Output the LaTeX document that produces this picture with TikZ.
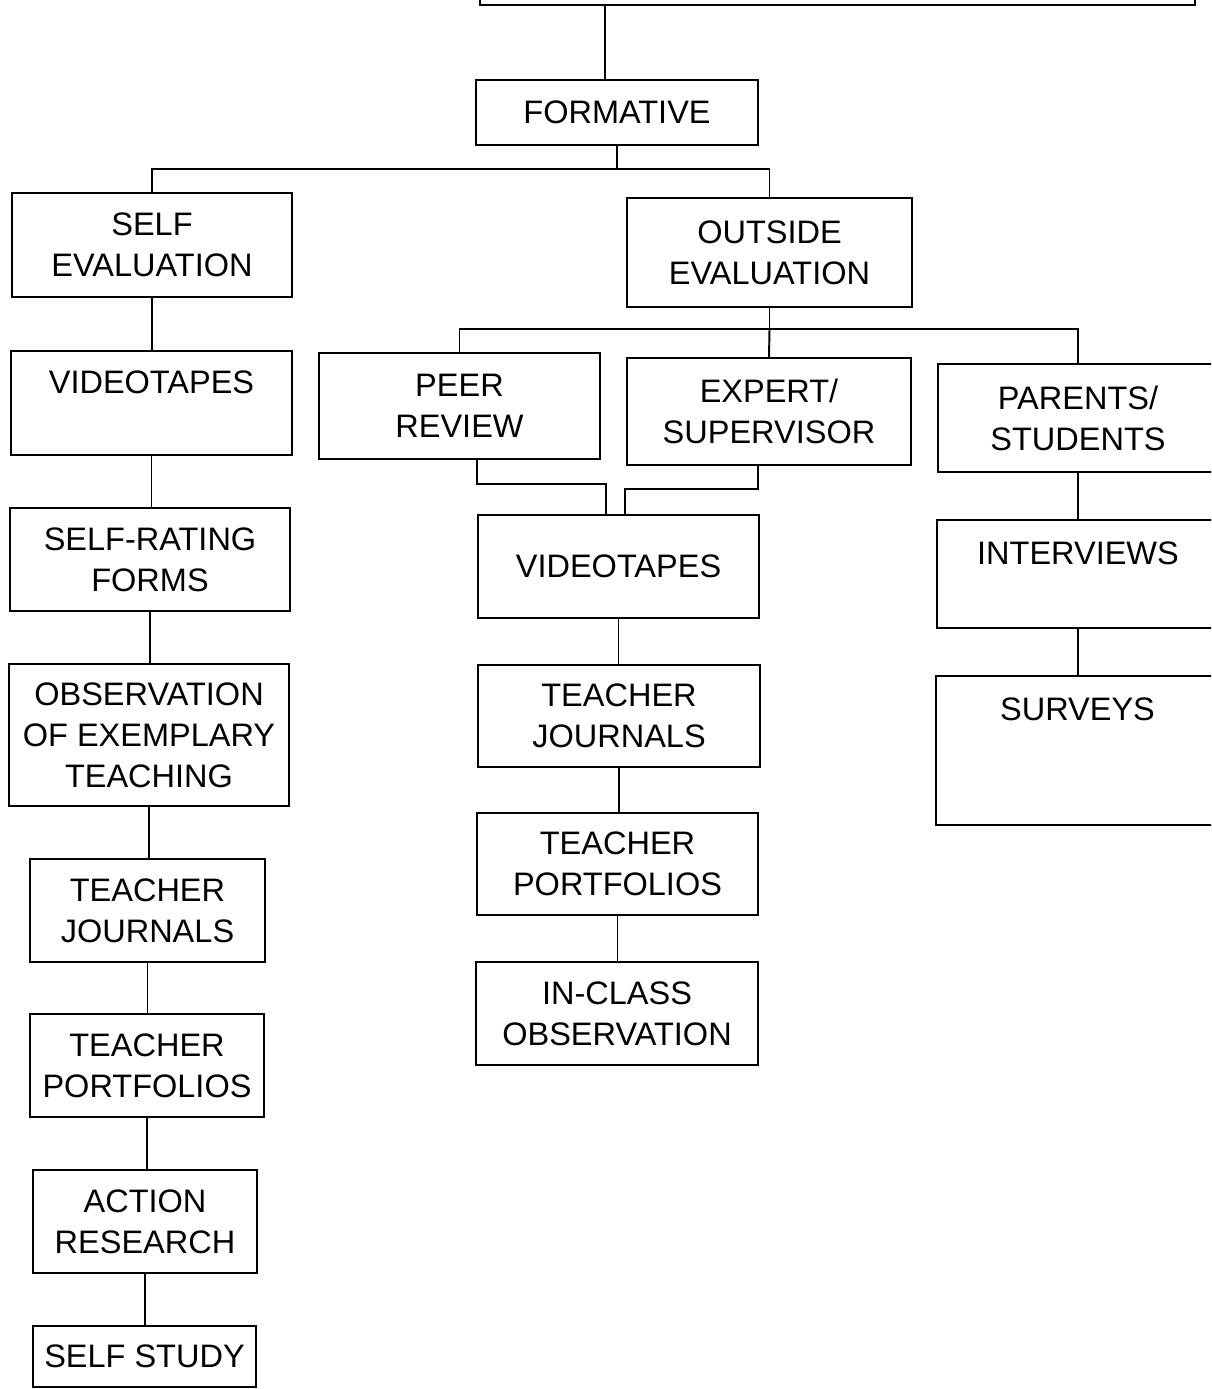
\documentclass[tikz,border=0pt]{standalone}
\usepackage{fontspec}
\setmainfont{Liberation Sans}
\usepackage{tikz}

\begin{document}
\begin{tikzpicture}[
  x=0.02cm, y=-0.02cm,
  box/.style={draw, line width=1.1pt, align=center, inner sep=0pt,
              font=\fontsize{18.5}{23.3}\selectfont},
  sz/.style 2 args={minimum width=#1*0.02cm, minimum height=#2*0.02cm},
  line width=1.1pt
]
  \useasboundingbox (0,0) rectangle (1211,1389);
  \clip (0,0) rectangle (1211,1389);

  \node[box, sz={715}{114}] (evalbox) at (837.5,-52) {};
  \node[box, sz={282}{65}]  (form)    at (617,112.5) {FORMATIVE};

  % self evaluation column
  \node[box, sz={280}{104}] (selfev) at (152,245)    {SELF\\EVALUATION};
  \node[box, sz={281}{104}] (vid1)   at (151.5,403)  {VIDEOTAPES\\\mbox{}};
  \node[box, sz={280}{103}] (rate)   at (150,559.5)  {SELF-RATING\\FORMS};
  \node[box, sz={280}{142}] (obs)    at (149,735)    {OBSERVATION\\OF EXEMPLARY\\TEACHING};
  \node[box, sz={235}{103}] (jour1)  at (147.5,910.5) {TEACHER\\JOURNALS};
  \node[box, sz={234}{103}] (port1)  at (147,1065.5) {TEACHER\\PORTFOLIOS};
  \node[box, sz={224}{103}] (act)    at (145,1221.5) {ACTION\\RESEARCH};
  \node[box, sz={223}{61}]  (study)  at (144.5,1356.5) {SELF STUDY};

  % outside evaluation
  \node[box, sz={285}{109}] (outev)   at (769.5,252.5) {OUTSIDE\\EVALUATION};
  \node[box, sz={281}{106}] (peer)    at (459.5,406)   {PEER\\REVIEW};
  \node[box, sz={284}{107}] (expert)  at (769,411.5)   {EXPERT/\\SUPERVISOR};
  \node[box, sz={280}{108}] (parents) at (1078,418)    {PARENTS/\\STUDENTS};

  \node[box, sz={281}{103}] (vid2)  at (618.5,566.5) {VIDEOTAPES};
  \node[box, sz={282}{102}] (jour2) at (619,716)     {TEACHER\\JOURNALS};
  \node[box, sz={281}{102}] (port2) at (617.5,864)   {TEACHER\\PORTFOLIOS};
  \node[box, sz={282}{103}] (incl)  at (617,1013.5)  {IN-CLASS\\OBSERVATION};

  \node[box, sz={282}{108}] (inter) at (1078,574)    {INTERVIEWS\\\mbox{}};
  \node[box, sz={283}{149}] (surv)  at (1077.5,750.5) {SURVEYS\\\mbox{}\\\mbox{}};

  % connectors
  \draw ([xshift=-0.24cm]form.north) -- ([xshift=-0.24cm]form.north |- evalbox.south);
  \draw (form.south) -- ++(0,23) coordinate (fj);
  \draw (selfev.north) |- (fj) -| (outev.north);

  \draw (selfev.south) -- (selfev.south |- vid1.north);
  \draw (vid1.south)   -- (vid1.south |- rate.north);
  \draw (rate.south)   -- (rate.south |- obs.north);
  \draw (obs.south)    -- (obs.south |- jour1.north);
  \draw (jour1.south)  -- (jour1.south |- port1.north);
  \draw (port1.south)  -- (port1.south |- act.north);
  \draw (act.south)    -- (act.south |- study.north);

  \draw (outev.south) -- ++(0,21) coordinate (oj);
  \draw (peer.north) |- (oj) -| (parents.north);
  \draw (oj) -- (expert.north);

  \draw ([xshift=0.35cm]peer.south) -- ++(0,24) -| ([xshift=-0.25cm]vid2.north);
  \draw ([xshift=-0.22cm]expert.south) -- ++(0,23) -| ([xshift=0.13cm]vid2.north);

  \draw (vid2.south)  -- (vid2.south |- jour2.north);
  \draw (jour2.south) -- (jour2.south |- port2.north);
  \draw (port2.south) -- (port2.south |- incl.north);

  \draw (parents.south) -- (parents.south |- inter.north);
  \draw (inter.south)   -- (inter.south |- surv.north);
\end{tikzpicture}
\end{document}
